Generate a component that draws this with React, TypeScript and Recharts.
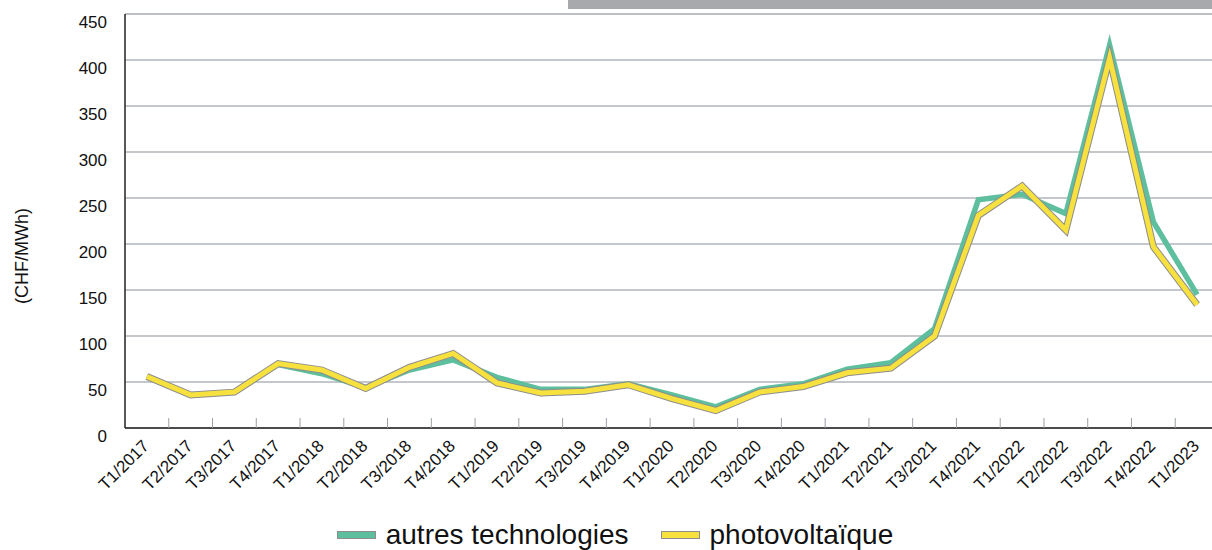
import React from "react"
import {
  LineChart,
  Line,
  XAxis,
  YAxis,
  CartesianGrid,
  ReferenceLine,
} from "recharts"

const categories = [
  "T1/2017", "T2/2017", "T3/2017", "T4/2017",
  "T1/2018", "T2/2018", "T3/2018", "T4/2018",
  "T1/2019", "T2/2019", "T3/2019", "T4/2019",
  "T1/2020", "T2/2020", "T3/2020", "T4/2020",
  "T1/2021", "T2/2021", "T3/2021", "T4/2021",
  "T1/2022", "T2/2022", "T3/2022", "T4/2022",
  "T1/2023",
]

const autresTechnologies = [
  56, 36, 39, 69, 59, 44, 63, 74, 55, 42, 42, 48, 36, 23, 42, 48, 64, 71, 108,
  248, 254, 233, 416, 224, 145,
]

const photovoltaique = [
  56, 36, 39, 70, 63, 43, 66, 81, 49, 38, 40, 47, 32, 19, 39, 45, 60, 65, 100,
  231, 263, 215, 402, 197, 134,
]

const yTicks = [0, 50, 100, 150, 200, 250, 300, 350, 400, 450]

const TEAL = "#5ebf9f"
const YELLOW = "#f6e13e"
const OUTLINE = "#8d8d8d"
const FONT = "'Liberation Sans', Arial, sans-serif"

const data = categories.map((cat, i) => ({
  cat,
  autres: autresTechnologies[i],
  pv: photovoltaique[i],
}))

const CHART_W = 1224
const PLOT_LEFT = 125
const PLOT_RIGHT = 1219
const BAND = (PLOT_RIGHT - PLOT_LEFT) / categories.length

function XTick(props: any) {
  const { x, y, index, payload } = props
  const last = index === categories.length - 1
  const ax = x + 3
  const ay = y + 19
  return (
    <g>
      {!last && (
        <line
          x1={x + BAND / 2}
          x2={x + BAND / 2}
          y1={y}
          y2={y - 10}
          stroke="#9aa0a6"
          strokeWidth={1}
        />
      )}
      <text
        x={ax}
        y={ay}
        textAnchor="end"
        transform={`rotate(-45 ${ax} ${ay})`}
        fontSize={17}
        fontFamily={FONT}
        fill="#111"
      >
        {payload.value}
      </text>
    </g>
  )
}

function YTick(props: any) {
  const { y, payload } = props
  return (
    <text
      x={107}
      y={y + 14}
      textAnchor="end"
      fontSize={17}
      fontFamily={FONT}
      fill="#111"
    >
      {payload.value}
    </text>
  )
}

function YTitle() {
  return (
    <text
      x={28}
      y={256}
      textAnchor="middle"
      transform="rotate(-90 28 256)"
      fontSize={18}
      fontFamily={FONT}
      fill="#111"
    >
      (CHF/MWh)
    </text>
  )
}

function Swatch({ color }: { color: string }) {
  return (
    <span
      style={{
        display: "inline-block",
        width: 37,
        height: 6,
        background: color,
        border: `1px solid ${OUTLINE}`,
        marginRight: 10,
        verticalAlign: "middle",
        position: "relative",
        top: -2,
      }}
    />
  )
}

export default function App() {
  return (
    <div
      style={{
        position: "absolute",
        left: 0,
        top: 0,
        width: 1212,
        height: 550,
        overflow: "hidden",
        background: "#fff",
      }}
    >
      <div
        style={{
          position: "absolute",
          left: 568,
          top: 0,
          width: 644,
          height: 9,
          background: "#a7a9ad",
        }}
      />
      <div style={{ position: "absolute", left: 0, top: 0 }}>
        <LineChart
          width={CHART_W}
          height={550}
          data={data}
          margin={{ top: 14, right: CHART_W - PLOT_RIGHT, bottom: 0, left: 0 }}
        >
          <CartesianGrid
            horizontal
            vertical={false}
            stroke="#8a9097"
            strokeWidth={1}
          />
          <XAxis
            dataKey="cat"
            height={122}
            interval={0}
            padding={{ left: BAND / 2, right: BAND / 2 }}
            tick={<XTick />}
            tickLine={false}
            tickSize={0}
            tickMargin={0}
            axisLine={{ stroke: "#222", strokeWidth: 1.5 }}
          />
          <YAxis
            width={PLOT_LEFT}
            domain={[0, 450]}
            ticks={yTicks}
            interval={0}
            tick={<YTick />}
            tickLine={false}
            axisLine={{ stroke: "#222", strokeWidth: 1.5 }}
            label={<YTitle />}
          />
          <ReferenceLine y={450} stroke="#b8bcc1" strokeWidth={1.5} />
          <Line
            dataKey="autres"
            stroke={TEAL}
            strokeWidth={5.5}
            dot={false}
            activeDot={false}
            strokeLinejoin="miter"
            strokeMiterlimit={10}
            isAnimationActive={false}
          />
          <Line
            dataKey="pv"
            stroke={OUTLINE}
            strokeWidth={7}
            dot={false}
            activeDot={false}
            strokeLinejoin="miter"
            strokeMiterlimit={10}
            isAnimationActive={false}
          />
          <Line
            dataKey="pv"
            stroke={YELLOW}
            strokeWidth={5}
            dot={false}
            activeDot={false}
            strokeLinejoin="miter"
            strokeMiterlimit={10}
            isAnimationActive={false}
          />
        </LineChart>
      </div>
      <div
        style={{
          position: "absolute",
          left: 0,
          top: 519,
          width: 1230,
          textAlign: "center",
          fontFamily: FONT,
          fontSize: 28,
          color: "#111",
          whiteSpace: "nowrap",
          lineHeight: "32px",
        }}
      >
        <span style={{ marginRight: 32 }}>
          <Swatch color={TEAL} />
          autres technologies
        </span>
        <span>
          <Swatch color={YELLOW} />
          photovoltaïque
        </span>
      </div>
    </div>
  )
}
